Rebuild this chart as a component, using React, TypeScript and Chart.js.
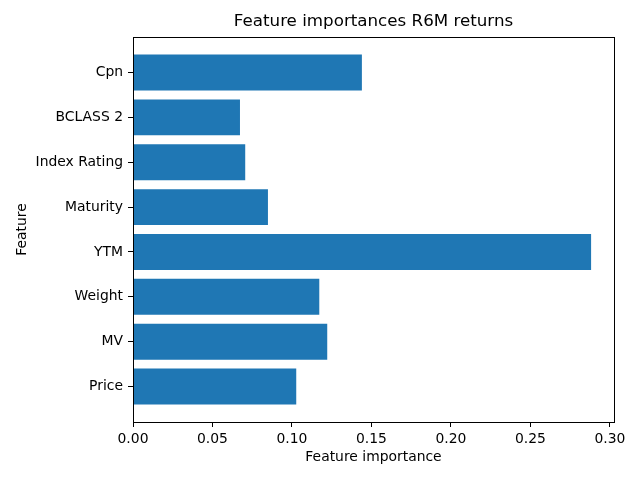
import React, { useEffect, useRef } from "react";
import { Chart, registerables } from "chart.js";

Chart.register(...registerables);

const features = ["Price", "MV", "Weight", "YTM", "Maturity", "Index Rating", "BCLASS 2", "Cpn"];
const importances = [0.1027, 0.1222, 0.1172, 0.2882, 0.0849, 0.0706, 0.0673, 0.144];
const xTicks = [0, 0.05, 0.1, 0.15, 0.2, 0.25, 0.3];

const FONT = "'DejaVu Sans', sans-serif";

const boxPlugin = {
  id: "box",
  afterDraw(chart: any) {
    const { ctx, chartArea } = chart;
    ctx.save();
    ctx.strokeStyle = "#000";
    ctx.lineWidth = 1;
    ctx.strokeRect(
      Math.round(chartArea.left) + 0.5,
      Math.round(chartArea.top) + 0.5,
      Math.round(chartArea.right - chartArea.left),
      Math.round(chartArea.bottom - chartArea.top)
    );
    ctx.restore();
  },
};

export default function App() {
  const ref = useRef<HTMLCanvasElement>(null);
  useEffect(() => {
    document.body.style.margin = "0";
    const maxV = Math.max(...importances);
    const chart = new Chart(ref.current!, {
      type: "bar",
      data: {
        datasets: [
          {
            data: importances.map((v, i) => ({ x: v, y: i })),
            backgroundColor: "#1f77b4",
            borderWidth: 0,
            barPercentage: 0.8,
            categoryPercentage: 1,
          },
        ],
      },
      options: {
        indexAxis: "y",
        animation: false,
        responsive: false,
        devicePixelRatio: 1,
        layout: { padding: { left: 0, right: 26, top: 0, bottom: 0 } },
        plugins: {
          legend: { display: false },
          tooltip: { enabled: false },
          title: {
            display: true,
            fullSize: false,
            text: "Feature importances R6M returns",
            color: "#000",
            font: { family: FONT, size: 16.7, weight: "normal" },
            padding: { top: 12, bottom: 5 },
          },
        },
        scales: {
          x: {
            type: "linear",
            min: 0,
            max: maxV * 1.05,
            afterBuildTicks: (s: any) => {
              s.ticks = xTicks.map((v) => ({ value: v }));
            },
            afterFit: (s: any) => {
              s.height = 58;
            },
            ticks: {
              color: "#000",
              font: { family: FONT, size: 13.9 },
              padding: 4,
              maxRotation: 0,
              callback: (v: any) => Number(v).toFixed(2),
            },
            grid: {
              display: true,
              drawOnChartArea: false,
              drawTicks: true,
              tickLength: 5,
              color: "#000",
            },
            border: { display: true, color: "#000", width: 1 },
            title: {
              display: true,
              text: "Feature importance",
              color: "#000",
              font: { family: FONT, size: 13.9 },
              padding: { top: 0, bottom: 14 },
            },
          },
          y: {
            type: "linear",
            offset: false,
            min: -0.79,
            max: features.length - 1 + 0.79,
            afterBuildTicks: (s: any) => {
              s.ticks = features.map((_, i) => ({ value: i }));
            },
            afterFit: (s: any) => {
              s.width = 133;
            },
            ticks: {
              color: "#000",
              font: { family: FONT, size: 13.9 },
              padding: 5,
              callback: (v: any) => features[Math.round(Number(v))] ?? "",
            },
            grid: {
              display: true,
              offset: false,
              drawOnChartArea: false,
              drawTicks: true,
              tickLength: 5,
              color: "#000",
            },
            border: { display: true, color: "#000", width: 1 },
            title: {
              display: true,
              text: "Feature",
              color: "#000",
              font: { family: FONT, size: 13.9 },
              padding: { top: 14, bottom: 0 },
            },
          },
        },
      },
      plugins: [boxPlugin],
    });
    return () => chart.destroy();
  }, []);
  return <canvas ref={ref} width={640} height={480} style={{ display: "block" }} />;
}
